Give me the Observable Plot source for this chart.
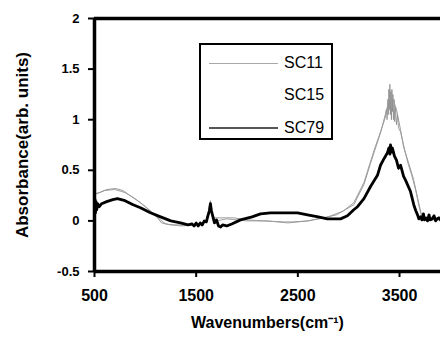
<!DOCTYPE html>
<html>
<head>
<meta charset="utf-8">
<script src="https://cdn.jsdelivr.net/npm/d3@7"></script>
<script src="https://cdn.jsdelivr.net/npm/@observablehq/plot@0.6"></script>
<style>
  body { margin: 0; background: #fff; }
  #wrap { position: relative; width: 440px; height: 344px; overflow: hidden; }
  #legend { position: absolute; left: 199px; top: 43px; width: 130px; height: 93px;
            border: 2px solid #000; background: #fff;
            font-family: "Liberation Sans", Arial, sans-serif; font-size: 16px; }
  .row { position: absolute; left: 0; height: 20px; display: flex; align-items: center; }
  .sw { width: 69px; margin-left: 8px; margin-right: 6px; }
</style>
</head>
<body>
<div id="wrap"></div>
<script>
// ---- data ----
const seriesNames = ["SC11", "SC15", "SC79"];
const xTicks = [500, 1500, 2500, 3500];
const yTicks = [-0.5, 0, 0.5, 1, 1.5, 2];

const wnSC11 = [500, 510, 550, 620, 706, 780, 850, 952, 1050, 1120, 1160, 1250, 1350, 1450, 1550, 1600, 1625, 1640, 1655, 1680, 1740, 1870, 2000, 2150, 2360, 2460, 2600, 2750, 2880, 2950, 3050, 3150, 3215, 3313, 3360, 3400, 3420, 3470, 3510, 3540, 3590, 3638, 3677, 3710, 3750, 3800, 3903];
const absSC11 = [0.24, 0.27, 0.28, 0.31, 0.32, 0.30, 0.25, 0.18, 0.10, 0.03, -0.02, -0.04, -0.04, -0.04, -0.03, 0.00, 0.08, 0.18, 0.08, 0.03, 0.03, 0.03, 0.01, 0.00, -0.01, -0.01, 0.00, 0.03, 0.06, 0.10, 0.16, 0.36, 0.57, 0.87, 1.05, 1.20, 1.25, 1.10, 0.90, 0.73, 0.57, 0.41, 0.23, 0.08, 0.02, 0.01, 0.01];

const wnSC15 = [500, 600, 700, 800, 900, 1000, 1100, 1200, 1350, 1500, 1600, 1640, 1660, 1700, 1800, 2000, 2200, 2400, 2600, 2800, 2950, 3050, 3150, 3250, 3320, 3360, 3370, 3378, 3385, 3390, 3395, 3400, 3405, 3410, 3415, 3420, 3425, 3430, 3435, 3440, 3447, 3453, 3460, 3470, 3480, 3490, 3510, 3540, 3580, 3620, 3660, 3690, 3720, 3760, 3903];
const absSC15 = [0.26, 0.30, 0.31, 0.28, 0.22, 0.14, 0.05, -0.03, -0.05, -0.04, 0.00, 0.20, 0.05, 0.00, 0.02, 0.00, 0.00, -0.02, 0.00, 0.04, 0.10, 0.18, 0.38, 0.70, 0.90, 1.02, 1.10, 1.00, 1.20, 1.05, 1.30, 1.10, 1.35, 1.05, 1.28, 1.00, 1.30, 1.08, 1.25, 1.00, 1.20, 0.98, 1.12, 0.95, 1.05, 0.92, 0.88, 0.75, 0.58, 0.45, 0.30, 0.15, 0.04, 0.02, 0.01];

const wnSC79 = [500, 505, 510, 515, 522, 530, 545, 570, 620, 680, 726, 800, 880, 952, 1050, 1150, 1250, 1346, 1420, 1460, 1480, 1500, 1520, 1540, 1560, 1580, 1600, 1615, 1630, 1640, 1650, 1665, 1680, 1700, 1720, 1740, 1760, 1800, 1850, 1936, 2050, 2133, 2231, 2300, 2400, 2497, 2595, 2700, 2790, 2850, 2920, 2988, 3050, 3087, 3150, 3215, 3283, 3313, 3350, 3380, 3395, 3405, 3411, 3420, 3430, 3450, 3470, 3490, 3510, 3540, 3560, 3608, 3640, 3660, 3677, 3690, 3706, 3720, 3735, 3745, 3760, 3775, 3790, 3800, 3820, 3840, 3855, 3870, 3890, 3903];
const absSC79 = [0.12, 0.21, 0.08, 0.19, 0.11, 0.17, 0.14, 0.17, 0.19, 0.21, 0.22, 0.20, 0.16, 0.13, 0.08, 0.04, 0.00, -0.02, -0.04, -0.03, -0.05, -0.02, -0.05, -0.02, -0.04, 0.00, -0.01, 0.05, 0.10, 0.17, 0.10, 0.04, -0.02, 0.01, -0.05, -0.06, -0.04, -0.05, -0.03, 0.01, 0.04, 0.07, 0.08, 0.08, 0.08, 0.08, 0.06, 0.04, 0.02, 0.02, 0.02, 0.05, 0.11, 0.14, 0.22, 0.34, 0.45, 0.55, 0.62, 0.67, 0.72, 0.66, 0.75, 0.68, 0.72, 0.64, 0.60, 0.52, 0.55, 0.44, 0.40, 0.29, 0.16, 0.10, 0.06, 0.02, 0.04, 0.01, 0.07, 0.01, 0.03, 0.00, 0.06, 0.01, 0.02, 0.05, 0.00, 0.02, 0.03, 0.01];

const toRows = (wn, ab, name) => wn.map((w, i) => ({wn: w, abs: ab[i], series: name}));
const sc11 = toRows(wnSC11, absSC11, "SC11");
const sc15 = toRows(wnSC15, absSC15, "SC15");
const sc79 = toRows(wnSC79, absSC79, "SC79");

const chart = Plot.plot({
  width: 440,
  height: 344,
  marginLeft: 94,
  marginTop: 18,
  marginBottom: 73,
  marginRight: 0,
  x: {domain: [500, 3903]},
  y: {domain: [-0.5, 2]},
  style: {fontFamily: "'Liberation Sans', Arial, sans-serif", fontWeight: "bold", color: "#000", background: "#fff", overflow: "visible"},
  marks: [
    Plot.axisY({ticks: yTicks, tickFormat: d => String(d), tickSize: 6, tickPadding: 9, strokeWidth: 2, label: null, fontSize: 13, style: "letter-spacing:1.5px"}),
    Plot.axisX({ticks: xTicks, tickFormat: d => String(d), tickSize: 6, tickPadding: 12, strokeWidth: 2, label: null, fontSize: 16}),
    Plot.line(sc15, {x: "wn", y: "abs", stroke: "#8a8a8a", strokeWidth: 0.8}),
    Plot.line(sc11, {x: "wn", y: "abs", stroke: "#9a9a9a", strokeWidth: 1}),
    Plot.line(sc79, {x: "wn", y: "abs", stroke: "#000", strokeWidth: 2.8}),
    Plot.ruleX([500], {strokeWidth: 3.5}),
    Plot.ruleY([2], {strokeWidth: 3.5}),
    Plot.ruleY([-0.5], {strokeWidth: 3.5}),
    Plot.text(["Wavenumbers(cm⁻¹)"], {frameAnchor: "bottom", dy: 56, fontSize: 16, fontWeight: "bold", style: "letter-spacing:2.2px"}),
    Plot.text(["Absorbance(arb. units)"], {frameAnchor: "left", textAnchor: "middle", dx: -72, rotate: -90, fontSize: 17, fontWeight: "bold"})
  ]
});

const wrap = document.getElementById("wrap");
wrap.appendChild(chart);

// legend overlay
const legend = document.createElement("div");
legend.id = "legend";
const legendStyles = {SC11: {color: "#a8a8a8", w: 1.5}, SC15: null, SC79: {color: "#555", w: 2}};
const rowTops = [8, 40, 73];
seriesNames.forEach((name, i) => {
  const row = document.createElement("div");
  row.className = "row";
  row.style.top = rowTops[i] + "px";
  const sw = document.createElement("div");
  sw.className = "sw";
  const st = legendStyles[name];
  sw.style.height = "0px";
  sw.style.borderTop = st ? `${st.w}px solid ${st.color}` : "0px solid transparent";
  row.appendChild(sw);
  const lab = document.createElement("span");
  lab.textContent = name;
  row.appendChild(lab);
  legend.appendChild(row);
});
wrap.appendChild(legend);
</script>
</body>
</html>
